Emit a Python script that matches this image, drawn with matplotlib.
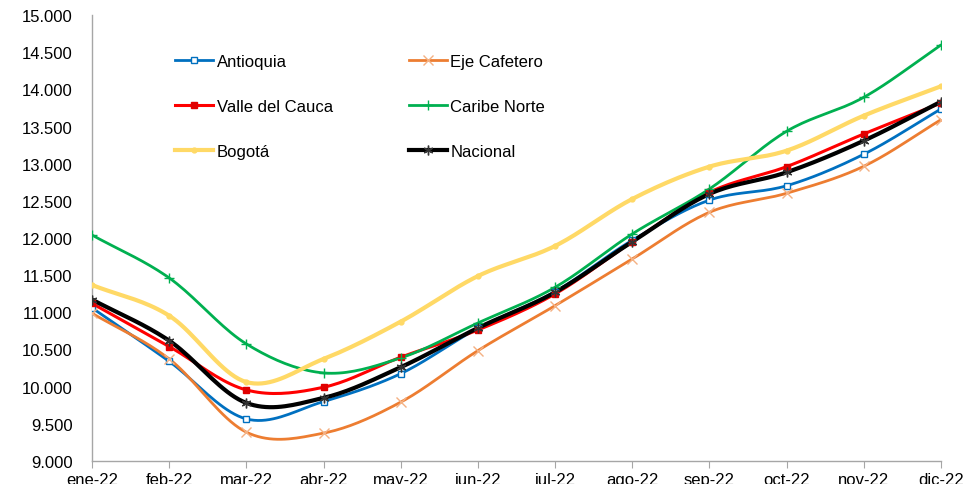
import numpy as np
import matplotlib
matplotlib.use("Agg")
import matplotlib.pyplot as plt
from matplotlib.ticker import FuncFormatter

plt.rcParams['font.family'] = ['Liberation Sans', 'DejaVu Sans']

# Datos
meses = ["ene-22", "feb-22", "mar-22", "abr-22", "may-22", "jun-22",
         "jul-22", "ago-22", "sep-22", "oct-22", "nov-22", "dic-22"]

antioquia = [11060, 10340, 9566, 9800, 10175, 10785, 11278, 11970, 12510, 12703, 13127, 13736]
eje_cafetero = [10988, 10373, 9388, 9375, 9792, 10485, 11090, 11718, 12346, 12602, 12965, 13592]
valle_cauca = [11120, 10540, 9956, 9992, 10396, 10763, 11248, 11950, 12615, 12960, 13400, 13816]
caribe_norte = [12040, 11463, 10575, 10185, 10387, 10857, 11337, 12055, 12660, 13436, 13893, 14597]
bogota = [11368, 10955, 10062, 10373, 10875, 11488, 11893, 12525, 12960, 13175, 13646, 14041]
nacional = [11172, 10619, 9781, 9849, 10262, 10790, 11270, 11950, 12593, 12884, 13309, 13834]


def suavizar(x, y, n=20):
    # curva tipo Catmull-Rom (como las lineas suavizadas de Excel)
    x = np.asarray(x, float)
    y = np.asarray(y, float)
    px = np.concatenate([[2 * x[0] - x[1]], x, [2 * x[-1] - x[-2]]])
    py = np.concatenate([[2 * y[0] - y[1]], y, [2 * y[-1] - y[-2]]])
    xs, ys = [], []
    t = np.linspace(0, 1, n, endpoint=False)
    for i in range(1, len(px) - 2):
        for p, out in ((px, xs), (py, ys)):
            p0, p1, p2, p3 = p[i - 1], p[i], p[i + 1], p[i + 2]
            out.extend(0.5 * ((2 * p1) + (-p0 + p2) * t +
                              (2 * p0 - 5 * p1 + 4 * p2 - p3) * t ** 2 +
                              (-p0 + 3 * p1 - 3 * p2 + p3) * t ** 3))
    xs.append(x[-1])
    ys.append(y[-1])
    return np.array(xs), np.array(ys)


fig = plt.figure(figsize=(9.68, 4.85), dpi=100)
ax = fig.add_axes([92 / 968, 23 / 485, 849 / 968, 446 / 485])

x = np.arange(len(meses))

series = [
    ("Antioquia", antioquia, "#0070C0", 2.0, dict(marker="s", ms=5, mfc="white", mec="#0070C0", mew=1.0)),
    ("Eje Cafetero", eje_cafetero, "#ED7D31", 2.0, dict(marker="x", ms=7, mec="#F4B183", mew=1.0)),
    ("Valle del Cauca", valle_cauca, "#FF0000", 2.2, dict(marker="s", ms=4.5, mfc="#E00000", mec="#E00000")),
    ("Caribe Norte", caribe_norte, "#00B050", 2.0, dict(marker="+", ms=7, mec="#00B050", mew=1.0)),
    ("Bogotá", bogota, "#FFD966", 3.0, dict(marker="o", ms=3.5, mfc="#FFD966", mec="#FFD966")),
    ("Nacional", nacional, "#000000", 3.0, dict(marker=(6, 2, 0), ms=7, mec="#333333", mew=1.0)),
]

handles = {}
for nombre, vals, color, lw, mk in series:
    sx, sy = suavizar(x, vals)
    ax.plot(sx, sy, color=color, lw=lw, solid_capstyle="round", zorder=2)
    ax.plot(x, vals, ls="none", zorder=3, **mk)
    h, = ax.plot([], [], color=color, lw=lw, **mk)
    handles[nombre] = h

orden = ["Antioquia", "Valle del Cauca", "Bogotá", "Eje Cafetero", "Caribe Norte", "Nacional"]
ax.legend([handles[n] for n in orden], orden, ncol=2, frameon=False,
          loc="upper left", bbox_to_anchor=(175 / 968, 1 - 55 / 485),
          bbox_transform=fig.transFigure, fontsize=12, handlelength=2.3,
          handletextpad=0.2, labelspacing=1.8, columnspacing=4.55,
          borderpad=0, borderaxespad=0)

ax.set_xlim(0, len(meses) - 1)
ax.set_ylim(9000, 15000)
ax.set_xticks(x)
ax.set_xticklabels(meses)
ax.set_yticks(np.arange(9000, 15001, 500))
ax.yaxis.set_major_formatter(FuncFormatter(lambda v, p: f"{int(v):,}".replace(",", ".")))

for s in ["top", "right"]:
    ax.spines[s].set_visible(False)
for s in ["left", "bottom"]:
    ax.spines[s].set_color("#A6A6A6")
    ax.spines[s].set_linewidth(1.0)

ax.tick_params(axis="y", length=0, labelsize=12, pad=14, colors="#000000")
ax.tick_params(axis="x", length=5, color="#A6A6A6", labelsize=12, pad=3)

fig.savefig("out.png", dpi=100)
